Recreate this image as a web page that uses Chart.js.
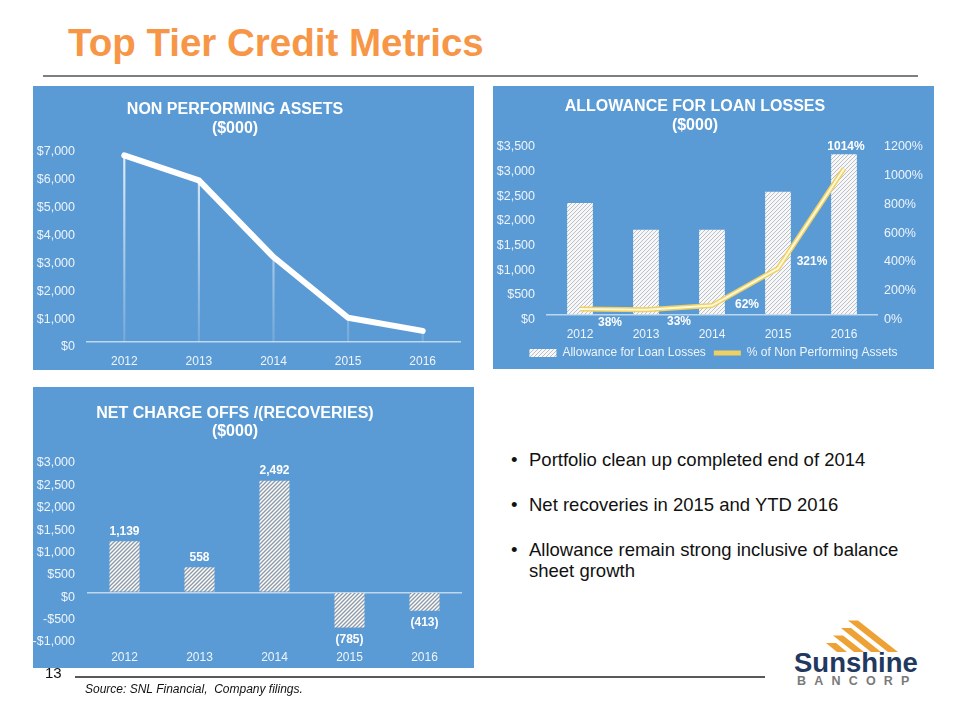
<!DOCTYPE html>
<html>
<head>
<meta charset="utf-8">
<script src="https://cdn.jsdelivr.net/npm/chart.js@4.4.1/dist/chart.umd.min.js"></script>
<style>
  body { margin: 0; width: 960px; height: 720px; background: #fff; position: relative; overflow: hidden;
         font-family: Arial, "Liberation Sans", sans-serif; }
  .abs { position: absolute; white-space: nowrap; }
  .panel { position: absolute; background: #5b9bd5; }
  .panel canvas { position: absolute; left: 0; top: 0; }
  .ptitle { position: absolute; left: 0; width: 404px; text-align: center; color: #fff;
            font-weight: bold; font-size: 16px; line-height: 18.5px; z-index: 2; }
  .bullet { position: absolute; left: 511px; font-size: 18.5px; line-height: 20.6px; color: #111; }
  .bullet span { display: inline-block; width: 18px; }
  .bullet .txt { display: inline-block; width: auto; vertical-align: top; }
</style>
</head>
<body>

<div class="abs" style="left:68px;top:21px;font-size:38.5px;line-height:44px;font-weight:bold;color:#f79646;">Top Tier Credit Metrics</div>
<div class="abs" style="left:43px;top:75px;width:875px;height:2px;background:#7f7f7f;"></div>

<div class="panel" style="left:33px;top:86px;width:441px;height:284px;">
  <div class="ptitle" style="top:14px;">NON PERFORMING ASSETS<br>($000)</div>
  <canvas id="npaChart" width="441" height="284"></canvas>
</div>

<div class="panel" style="left:493px;top:86px;width:441px;height:283px;">
  <div class="ptitle" style="top:11px;">ALLOWANCE FOR LOAN LOSSES<br>($000)</div>
  <canvas id="allowanceChart" width="441" height="283"></canvas>
</div>

<div class="panel" style="left:33px;top:387px;width:441px;height:281px;">
  <div class="ptitle" style="top:17px;line-height:17.5px;">NET CHARGE OFFS /(RECOVERIES)<br>($000)</div>
  <canvas id="ncoChart" width="441" height="281"></canvas>
</div>

<div class="bullet" style="top:450px;"><span>•</span>Portfolio clean up completed end of 2014</div>
<div class="bullet" style="top:495px;"><span>•</span>Net recoveries in 2015 and YTD 2016</div>
<div class="bullet" style="top:540px;"><span>•</span><span class="txt">Allowance remain strong inclusive of balance<br>sheet growth</span></div>

<div class="abs" style="left:45px;top:664px;font-size:15px;line-height:17px;color:#111;">13</div>
<div class="abs" style="left:75px;top:676px;width:690px;height:1.5px;background:#595959;"></div>
<div class="abs" style="left:85px;top:681px;font-size:12px;line-height:16px;font-style:italic;color:#111;">Source: SNL Financial,&nbsp; Company filings.</div>

<svg class="abs" style="left:822px;top:615px;" width="90" height="40">
  <polygon points="15,37 25,37 14,28 4,28" fill="#eea236"/>
  <polygon points="32,37 42,37 21,20.5 11,20.5" fill="#eea236"/>
  <polygon points="49,37 59,37 29,13 19,13" fill="#eea236"/>
  <polygon points="66,37 76,37 36,5.5 26,5.5" fill="#eea236"/>
</svg>
<div class="abs" style="left:794px;top:647px;font-size:27.5px;line-height:32px;font-weight:bold;color:#22385f;">Sunshine</div>
<div class="abs" style="left:797px;top:674px;font-size:12.5px;line-height:14px;font-weight:bold;letter-spacing:8.2px;color:#7a7a7a;">BANCORP</div>

<script>
const years = ["2012", "2013", "2014", "2015", "2016"];
const npa = [6700, 5800, 3050, 870, 400];
const allowance = [2260, 1720, 1720, 2490, 3250];
const coverage = [38, 33, 62, 321, 1014];
const netChargeOffs = [1139, 558, 2492, -785, -413];

// label nudges for the % line, relative to each point
const pctLabelOffsets = [[30, 14], [33, 12], [35, -1], [34, -7], [2, -22]];

Chart.defaults.font.family = "Arial, 'Liberation Sans', sans-serif";
Chart.defaults.font.size = 12.5;
Chart.defaults.color = "#eef4fa";

const axisColor = "rgba(255,255,255,0.6)";

function money(v) {
  return (v < 0 ? "-$" : "$") + Math.abs(v).toLocaleString("en-US");
}

function hatch(bg, line, lw) {
  const c = document.createElement("canvas");
  c.width = 4;
  c.height = 4;
  const x = c.getContext("2d");
  x.fillStyle = bg;
  x.fillRect(0, 0, 4, 4);
  x.strokeStyle = line;
  x.lineWidth = lw;
  x.beginPath();
  x.moveTo(-1, 5); x.lineTo(5, -1);
  x.moveTo(-1, 1); x.lineTo(1, -1);
  x.moveTo(3, 5); x.lineTo(5, 3);
  x.stroke();
  return x.createPattern(c, "repeat");
}

function dropFill(c) {
  const a = c.chart.chartArea;
  if (!a) return "rgba(255,255,255,0.6)";
  const g = c.chart.ctx.createLinearGradient(0, a.top, 0, a.bottom);
  g.addColorStop(0, "rgba(255,255,255,0.85)");
  g.addColorStop(1, "rgba(255,255,255,0.15)");
  return g;
}

new Chart(document.getElementById("npaChart"), {
  type: "line",
  data: {
    labels: years,
    datasets: [
      {
        label: "Non Performing Assets",
        data: npa,
        borderColor: "#ffffff",
        borderWidth: 6,
        pointRadius: 0,
        borderCapStyle: "round",
        borderJoinStyle: "round",
      },
      {
        type: "bar",
        label: "drop",
        data: npa,
        backgroundColor: dropFill,
        barThickness: 1.5,
      },
    ],
  },
  options: {
    animation: false,
    responsive: false,
    layout: { padding: { top: 61, right: 14, left: 0, bottom: 0 } },
    plugins: { legend: { display: false }, tooltip: { enabled: false } },
    scales: {
      x: {
        offset: true,
        grid: { display: false, drawTicks: false },
        border: { color: axisColor, width: 1.5 },
        ticks: { padding: 12.5, font: { size: 12 } },
        afterFit: (s) => { s.height = 28; },
      },
      y: {
        min: 0,
        max: 7000,
        grid: { display: false, drawTicks: false },
        border: { display: false },
        ticks: { stepSize: 1000, padding: 12, labelOffset: 5, callback: money },
        afterFit: (s) => { s.width = 54; },
      },
    },
  },
});

// % labels plus a pale highlight along the middle of the gold line
const pctLabels = {
  id: "pctLabels",
  afterDatasetsDraw(chart) {
    const ctx = chart.ctx;
    const meta = chart.getDatasetMeta(1);
    ctx.save();
    ctx.strokeStyle = "rgba(255,253,235,0.9)";
    ctx.lineWidth = 2;
    ctx.lineJoin = "round";
    ctx.beginPath();
    meta.data.forEach((pt, i) => (i ? ctx.lineTo(pt.x, pt.y) : ctx.moveTo(pt.x, pt.y)));
    ctx.stroke();
    ctx.font = "bold 12px Arial, 'Liberation Sans', sans-serif";
    ctx.fillStyle = "#ffffff";
    ctx.textAlign = "center";
    ctx.textBaseline = "middle";
    meta.data.forEach((pt, i) => {
      ctx.fillText(coverage[i] + "%", pt.x + pctLabelOffsets[i][0], pt.y + pctLabelOffsets[i][1]);
    });
    ctx.restore();
  },
};

new Chart(document.getElementById("allowanceChart"), {
  type: "bar",
  data: {
    labels: years,
    datasets: [
      {
        label: "Allowance for Loan Losses",
        data: allowance,
        backgroundColor: hatch("#f7f7f7", "#b8c0c9", 1),
        barPercentage: 0.39,
        categoryPercentage: 1,
        order: 2,
        pointStyle: "rect",
      },
      {
        type: "line",
        label: "% of Non Performing Assets",
        data: coverage,
        yAxisID: "y1",
        borderColor: "#efd061",
        borderWidth: 5,
        pointRadius: 0,
        order: 1,
        pointStyle: "line",
      },
    ],
  },
  options: {
    animation: false,
    responsive: false,
    layout: { padding: { top: 56, right: 0, left: 0, bottom: 0 } },
    plugins: {
      tooltip: { enabled: false },
      legend: {
        position: "bottom",
        labels: {
          usePointStyle: true,
          pointStyleWidth: 27,
          boxHeight: 8,
          padding: 8,
          font: { size: 12 },
          sort: (a, b) => a.datasetIndex - b.datasetIndex,
        },
      },
    },
    scales: {
      x: {
        grid: { display: false, drawTicks: false },
        border: { color: axisColor, width: 1.5 },
        ticks: { padding: 13, font: { size: 12 } },
        afterFit: (s) => { s.height = 24.5; },
      },
      y: {
        min: 0,
        max: 3500,
        grid: { display: false, drawTicks: false },
        border: { display: false },
        ticks: { stepSize: 500, padding: 12, labelOffset: 5, callback: money },
        afterFit: (s) => { s.width = 54; },
      },
      y1: {
        position: "right",
        min: 0,
        max: 1200,
        grid: { display: false, drawTicks: false },
        border: { display: false },
        ticks: { stepSize: 200, padding: 7, labelOffset: 5, callback: (v) => v + "%" },
        afterFit: (s) => { s.width = 57; },
      },
    },
  },
  plugins: [pctLabels],
});

const ncoLabels = {
  id: "ncoLabels",
  afterDatasetsDraw(chart) {
    const ctx = chart.ctx;
    const meta = chart.getDatasetMeta(0);
    ctx.save();
    ctx.font = "bold 12px Arial, 'Liberation Sans', sans-serif";
    ctx.fillStyle = "#ffffff";
    ctx.textAlign = "center";
    ctx.textBaseline = "middle";
    meta.data.forEach((bar, i) => {
      const v = netChargeOffs[i];
      const txt = v < 0 ? "(" + Math.abs(v) + ")" : v.toLocaleString("en-US");
      ctx.fillText(txt, bar.x, v < 0 ? bar.y + 12 : bar.y - 10);
    });
    ctx.restore();
  },
};

new Chart(document.getElementById("ncoChart"), {
  type: "bar",
  data: {
    labels: years,
    datasets: [
      {
        label: "Net Charge Offs /(Recoveries)",
        data: netChargeOffs,
        backgroundColor: hatch("#ffffff", "#8e9aa8", 1.4),
        barPercentage: 0.4,
        categoryPercentage: 1,
      },
    ],
  },
  options: {
    animation: false,
    responsive: false,
    layout: { padding: { top: 71, right: 12, left: 0, bottom: 0 } },
    plugins: { legend: { display: false }, tooltip: { enabled: false } },
    scales: {
      x: {
        grid: { display: false, drawTicks: false },
        border: { display: false },
        ticks: { padding: 13.8, font: { size: 12 } },
        afterFit: (s) => { s.height = 31; },
      },
      y: {
        min: -1000,
        max: 3000,
        grid: {
          drawTicks: false,
          lineWidth: 1.5,
          color: (c) => (c.tick && c.tick.value === 0 ? axisColor : "transparent"),
        },
        border: { display: false },
        ticks: { stepSize: 500, padding: 12, labelOffset: 5, callback: money },
        afterFit: (s) => { s.width = 54; },
      },
    },
  },
  plugins: [ncoLabels],
});
</script>
</body>
</html>
